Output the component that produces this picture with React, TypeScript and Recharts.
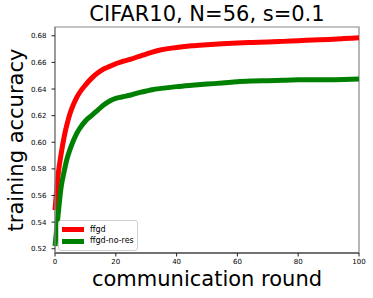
import { LineChart, Line, XAxis, YAxis, Legend, ReferenceArea } from 'recharts';

const rounds = [0, 1, 2, 3, 4, 5, 6, 7, 8, 10, 12, 14, 16, 18, 20, 22, 25, 28, 30, 32, 35, 40, 45, 50, 55, 60, 65, 70, 75, 80, 85, 90, 95, 100];

const ffgd = [
  0.549, 0.575, 0.591, 0.604, 0.614, 0.622, 0.628, 0.633, 0.637, 0.643, 0.648, 0.652, 0.655, 0.657, 0.659, 0.6605,
  0.6625, 0.6648, 0.6662, 0.6678, 0.6695, 0.6712, 0.6725, 0.6733, 0.674, 0.6746, 0.675, 0.6753, 0.6758, 0.6763,
  0.6768, 0.6773, 0.6779, 0.6785,
];

const ffgdNoRes = [
  0.522, 0.545, 0.566, 0.578, 0.588, 0.595, 0.601, 0.606, 0.61, 0.616, 0.62, 0.624, 0.628, 0.631, 0.633, 0.634,
  0.6355, 0.6375, 0.6385, 0.6395, 0.6405, 0.6418, 0.6428, 0.6437, 0.6445, 0.6455, 0.646, 0.6463, 0.6466, 0.6469,
  0.647, 0.647, 0.6472, 0.6476,
];

const xTicks = [0, 20, 40, 60, 80, 100];
const yTicks = [0.52, 0.54, 0.56, 0.58, 0.6, 0.62, 0.64, 0.66, 0.68];
const yMin = 0.5168;
const yMax = 0.6866;

const data = rounds.map((r, i) => ({ round: r, ffgd: ffgd[i], 'ffgd-no-res': ffgdNoRes[i] }));

const font = 'DejaVu Sans';

function LegendBox({ payload }: any) {
  return (
    <div
      style={{
        border: '1px solid #d0d0d0',
        borderRadius: 3,
        background: 'rgba(255,255,255,0.8)',
        padding: '3px 3px 3px 3px',
        fontFamily: font,
        fontSize: 8,
        color: '#000',
        width: 'max-content',
        lineHeight: 1,
      }}
    >
      {(payload || []).map((p: any) => (
        <div key={p.value} style={{ display: 'flex', alignItems: 'center', height: 11.5 }}>
          <span style={{ display: 'inline-block', width: 22, height: 5, background: p.color, marginRight: 6 }} />
          <span>{p.value}</span>
        </div>
      ))}
    </div>
  );
}

export default function App() {
  return (
    <div style={{ position: 'absolute', left: 0, top: 0, width: 373, height: 298, background: '#fff' }}>
      <LineChart width={373} height={298} data={data} margin={{ top: 27, right: 14, left: 0, bottom: 0 }}>
        <XAxis
          dataKey="round"
          type="number"
          domain={[0, 100]}
          ticks={xTicks}
          height={45}
          tickSize={3.5}
          tickMargin={3}
          axisLine={{ stroke: '#222', strokeWidth: 1 }}
          tickLine={{ stroke: '#222' }}
          tick={{ fontFamily: font, fontSize: 7, fill: '#000' }}
        />
        <YAxis
          type="number"
          domain={[yMin, yMax]}
          ticks={yTicks}
          allowDataOverflow
          width={55}
          tickSize={3.5}
          tickMargin={5}
          axisLine={{ stroke: '#888', strokeWidth: 1.2 }}
          tickLine={{ stroke: '#222' }}
          tick={{ fontFamily: font, fontSize: 7, fill: '#000' }}
          tickFormatter={(v: number) => v.toFixed(2)}
        />
        <ReferenceArea x1={0} x2={100} y1={yMin} y2={yMax} fill="none" stroke="#888" strokeWidth={1.2} />
        <Line dataKey="ffgd" type="monotone" stroke="#ff0000" strokeWidth={5} dot={false} isAnimationActive={false} />
        <Line dataKey="ffgd-no-res" type="monotone" stroke="#008000" strokeWidth={5} dot={false} isAnimationActive={false} />
        <Legend
          layout="horizontal"
          verticalAlign="middle"
          align="center"
          content={LegendBox}
          wrapperStyle={{ left: 58, top: 220, width: 'auto' }}
        />
        <text x={207} y={21} textAnchor="middle" fontFamily={font} fontSize={21} fill="#000">
          CIFAR10, N=56, s=0.1
        </text>
        <text x={207} y={286} textAnchor="middle" fontFamily={font} fontSize={21} fill="#000">
          communication round
        </text>
        <text x={23} y={140} textAnchor="middle" fontFamily={font} fontSize={21} fill="#000" transform="rotate(-90 23 140)">
          training accuracy
        </text>
      </LineChart>
    </div>
  );
}
